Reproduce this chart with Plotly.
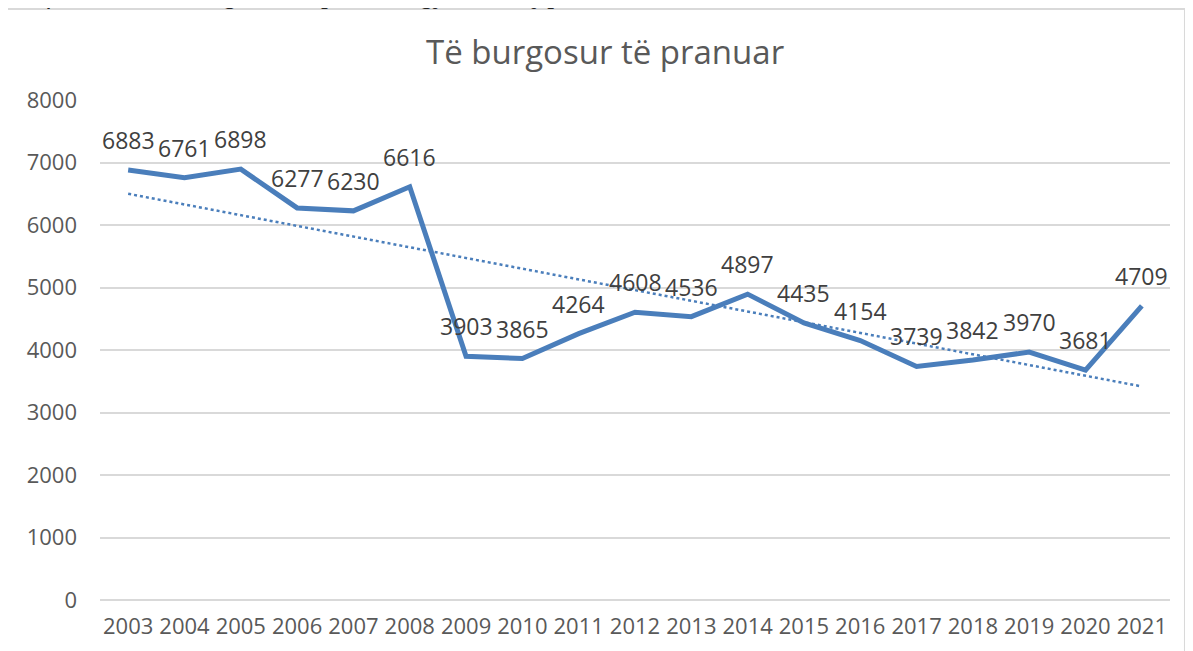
import numpy as np
import plotly.graph_objects as go

years = ["2003", "2004", "2005", "2006", "2007", "2008", "2009", "2010", "2011", "2012",
         "2013", "2014", "2015", "2016", "2017", "2018", "2019", "2020", "2021"]
values = [6883, 6761, 6898, 6277, 6230, 6616, 3903, 3865, 4264, 4608,
          4536, 4897, 4435, 4154, 3739, 3842, 3970, 3681, 4709]
y_ticks = [0, 1000, 2000, 3000, 4000, 5000, 6000, 7000, 8000]
title_text = "Të burgosur të pranuar"
caption_text = "Grafiku nr. 3, të burgosur të pranuar gjatë kësaj periudhe"

# linear trendline (least squares, as Excel's linear trendline)
idx = np.arange(len(values))
slope, intercept = np.polyfit(idx, values, 1)
trend = intercept + slope * idx

LINE_COLOR = "#4A7EBB"
TEXT_COLOR = "#595959"
FONT = "Open Sans"

fig = go.Figure()
fig.add_trace(go.Scatter(
    x=years, y=trend.tolist(), mode="lines",
    line=dict(color=LINE_COLOR, width=2.5, dash="dot"),
    hoverinfo="skip", showlegend=False))
fig.add_trace(go.Scatter(
    x=years, y=values, mode="lines",
    line=dict(color=LINE_COLOR, width=5),
    showlegend=False))

for i, v in enumerate(values):
    fig.add_annotation(x=i, y=v, text=str(v), showarrow=False,
                       yshift=30, font=dict(family=FONT, size=23, color="#404040"))

fig.add_annotation(xref="paper", yref="paper", x=0.472, y=1.096, yanchor="middle",
                   text=title_text, showarrow=False,
                   font=dict(family=FONT, size=33, color=TEXT_COLOR))

# cut-off caption above the chart frame
fig.add_annotation(xref="paper", yref="paper", x=-0.093, y=1.178, xanchor="left",
                   yanchor="bottom", text="<i>" + caption_text + "</i>", showarrow=False,
                   font=dict(family="Liberation Serif", size=28, color="#222222"))

# chart frame
fig.add_shape(type="rect", xref="paper", yref="paper", x0=-0.0888, x1=1.014,
              y0=-0.15, y1=1.182, line=dict(color="#D9D9D9", width=2),
              fillcolor="rgba(0,0,0,0)", layer="below")

fig.update_layout(
    width=1193, height=651,
    margin=dict(l=92, r=31, t=92, b=59, autoexpand=False),
    paper_bgcolor="white", plot_bgcolor="white",
    font=dict(family=FONT, color=TEXT_COLOR),
    xaxis=dict(type="category", range=[-0.5, len(years) - 0.5], showgrid=False,
               showline=False, zeroline=False,
               tickfont=dict(family=FONT, size=22, color=TEXT_COLOR),
               ticks="", ticklabelstandoff=11),
    yaxis=dict(range=[0, 8005], tickvals=y_ticks, showgrid=True,
               gridcolor="#D9D9D9", gridwidth=1.5, zeroline=True,
               zerolinecolor="#D9D9D9", zerolinewidth=1.5, showline=False,
               tickfont=dict(family=FONT, size=22, color=TEXT_COLOR),
               ticks="", ticklabelstandoff=22),
)

fig.write_html("out.html")
